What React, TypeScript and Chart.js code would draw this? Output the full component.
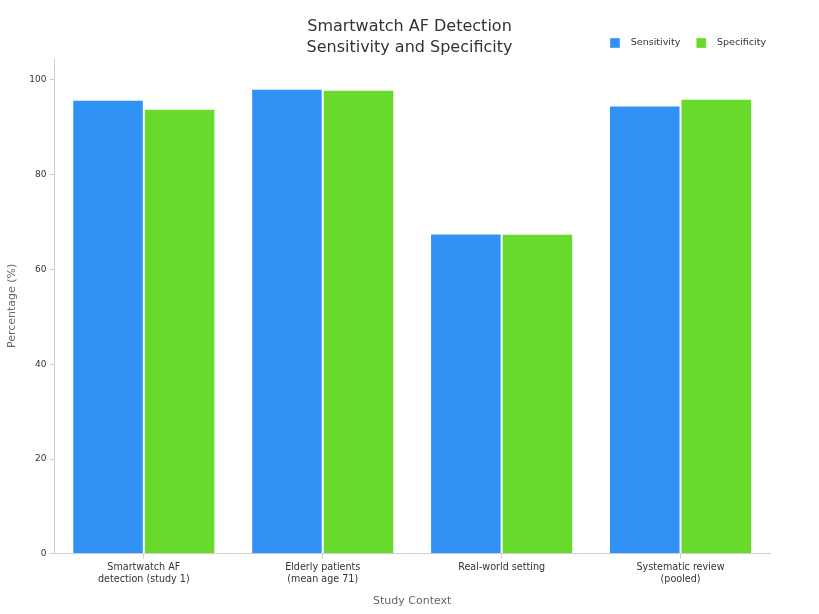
import { useEffect, useRef } from "react"
import { Chart, registerables } from "chart.js"

Chart.register(...registerables)

const categories = [
  ["Smartwatch AF", "detection (study 1)"],
  ["Elderly patients", "(mean age 71)"],
  ["Real-world setting"],
  ["Systematic review", "(pooled)"],
]
const sensitivity = [95.8, 98.1, 67.6, 94.6]
const specificity = [93.9, 97.9, 67.5, 96]
const yTicks = [0, 20, 40, 60, 80, 100]

const FONT = "'DejaVu Sans', sans-serif"

export default function App() {
  const canvasRef = useRef<HTMLCanvasElement>(null)

  useEffect(() => {
    const canvas = canvasRef.current
    if (!canvas) return
    document.body.style.margin = "0"

    const chart = new Chart(canvas, {
      type: "bar",
      data: {
        labels: categories,
        datasets: [
          {
            label: "Sensitivity",
            data: sensitivity,
            backgroundColor: "#3192f6",
            borderColor: "rgba(255,255,255,0.35)",
            borderWidth: 1,
            categoryPercentage: 0.8,
            barPercentage: 1,
          },
          {
            label: "Specificity",
            data: specificity,
            backgroundColor: "#67da2b",
            borderColor: "rgba(255,255,255,0.35)",
            borderWidth: 1,
            categoryPercentage: 0.8,
            barPercentage: 1,
          },
        ],
      },
      options: {
        animation: false,
        responsive: true,
        maintainAspectRatio: false,
        layout: { padding: { top: 22, right: 37, bottom: 2, left: 0 } },
        plugins: {
          legend: {
            position: "top",
            align: "end",
            labels: {
              boxWidth: 10,
              boxHeight: 10,
              padding: 16,
              color: "#333",
              font: { family: FONT, size: 9.5 },
              generateLabels: (c) =>
                Chart.defaults.plugins.legend.labels
                  .generateLabels(c)
                  .map((item) => ({ ...item, text: "  " + item.text })),
            },
          },
          tooltip: { enabled: false },
        },
        scales: {
          x: {
            grid: {
              offset: false,
              drawOnChartArea: false,
              drawTicks: true,
              tickLength: 5,
              color: "#d0d0d0",
            },
            border: { color: "#d0d0d0" },
            ticks: {
              color: "#333",
              font: { family: FONT, size: 9.6, lineHeight: 1.25 },
              maxRotation: 0,
              padding: 3,
            },
            title: {
              display: true,
              text: "Study Context",
              color: "#666",
              font: { family: FONT, size: 11 },
              padding: { top: 6, bottom: 4 },
            },
          },
          y: {
            min: 0,
            max: 104.6,
            afterBuildTicks: (axis) => {
              axis.ticks = yTicks.map((v) => ({ value: v }))
            },
            grid: {
              drawOnChartArea: false,
              drawTicks: true,
              tickLength: 5,
              color: "#d0d0d0",
            },
            border: { color: "#d0d0d0" },
            ticks: { color: "#333", font: { family: FONT, size: 9 }, padding: 3 },
            title: {
              display: true,
              text: "Percentage (%)",
              color: "#666",
              font: { family: FONT, size: 11 },
              padding: { top: 6, bottom: 7 },
            },
          },
          // empty right-hand spacer so the plot ends a little left of the legend
          spacer: {
            type: "linear",
            position: "right",
            display: true,
            grid: { display: false },
            border: { display: false },
            ticks: { display: false },
            afterFit: (axis) => {
              axis.width = 12
            },
          },
        },
      },
    })

    return () => {
      chart.destroy()
    }
  }, [])

  return (
    <div style={{ position: "relative", width: 819, height: 614 }}>
      <canvas ref={canvasRef} role="img" aria-label="Smartwatch AF Detection Sensitivity and Specificity" />
      <div
        style={{
          position: "absolute",
          top: 15,
          left: 0,
          width: 819,
          textAlign: "center",
          fontFamily: FONT,
          fontSize: 16,
          lineHeight: "21px",
          color: "#333",
          pointerEvents: "none",
        }}
      >
        Smartwatch AF Detection
        <br />
        Sensitivity and Specificity
      </div>
    </div>
  )
}
